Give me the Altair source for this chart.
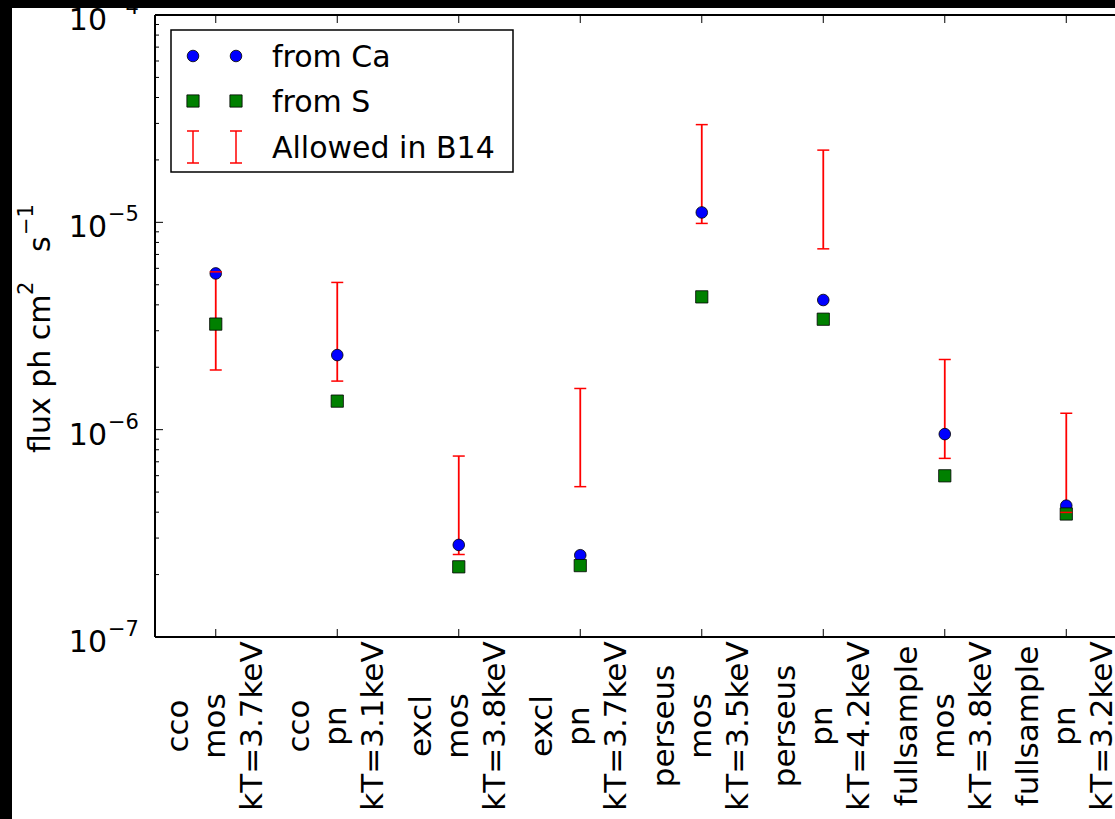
import altair as alt
import pandas as pd

# Sample / detector / temperature for each fitted spectrum
samples = ["cco", "cco", "excl", "excl", "perseus", "perseus", "fullsample", "fullsample"]
detectors = ["mos", "pn", "mos", "pn", "mos", "pn", "mos", "pn"]
temps = ["kT=3.7keV", "kT=3.1keV", "kT=3.8keV", "kT=3.7keV",
         "kT=3.5keV", "kT=4.2keV", "kT=3.8keV", "kT=3.2keV"]

# Line fluxes (ph cm^-2 s^-1)
flux_ca = [5.67e-6, 2.29e-6, 2.78e-7, 2.48e-7, 1.116e-5, 4.22e-6, 9.52e-7, 4.30e-7]
flux_s = [3.23e-6, 1.373e-6, 2.18e-7, 2.21e-7, 4.37e-6, 3.41e-6, 5.99e-7, 3.92e-7]
b14_low = [1.94e-6, 1.715e-6, 2.50e-7, 5.31e-7, 9.88e-6, 7.45e-6, 7.27e-7, 3.99e-7]
b14_high = [5.77e-6, 5.13e-6, 7.46e-7, 1.58e-6, 2.96e-5, 2.23e-5, 2.18e-6, 1.20e-6]

# Log-axis decades and their exponent labels
decades = [1e-7, 1e-6, 1e-5, 1e-4]
exponents = ["\u22127", "\u22126", "\u22125", "\u22124"]
minor_ticks = [k * d for d in decades[:-1] for k in range(2, 10)]

legend_labels = ["from Ca", "from S", "Allowed in B14"]

W, H = 960, 622
FONT = "DejaVu Sans"
LINE_H = 37

df = pd.DataFrame({
    "idx": list(range(len(samples))),
    "label": [f"{a}\n{b}\n{c}" for a, b, c in zip(samples, detectors, temps)],
    "ca": flux_ca,
    "s": flux_s,
    "lo": b14_low,
    "hi": b14_high,
})
dec_df = pd.DataFrame({"v": decades, "exp": exponents})
minor_df = pd.DataFrame({"v": minor_ticks})
one = alt.Data(values=[{}])

xs = alt.Scale(domain=[-0.5, 7.401], nice=False, zero=False)
ys = alt.Scale(type="log", domain=[1e-7, 1e-4], nice=False)
X = alt.X("idx:Q", scale=xs, axis=None)


def Y(field):
    return alt.Y(f"{field}:Q", scale=ys, axis=None)


def txt(**kw):
    return alt.Chart(one).mark_text(font=FONT, color="black", **kw)


# Axes spines (left, top, bottom)
spine_left = alt.Chart(one).mark_rule(color="black", strokeWidth=2).encode(
    x=alt.value(0), y=alt.value(0), y2=alt.value(H))
spine_top = alt.Chart(one).mark_rule(color="black", strokeWidth=2).encode(
    y=alt.value(0), x=alt.value(0), x2=alt.value(W))
spine_bottom = alt.Chart(one).mark_rule(color="black", strokeWidth=2).encode(
    y=alt.value(H), x=alt.value(0), x2=alt.value(W))

# Inward ticks
ytick_major = alt.Chart(dec_df).mark_rule(color="black", strokeWidth=1).encode(
    y=Y("v"), x=alt.value(0), x2=alt.value(8))
ytick_minor = alt.Chart(minor_df).mark_rule(color="black", strokeWidth=1).encode(
    y=Y("v"), x=alt.value(0), x2=alt.value(4))
xtick_top = alt.Chart(df).mark_rule(color="black", strokeWidth=1).encode(
    x=X, y=alt.value(0), y2=alt.value(8))
xtick_bottom = alt.Chart(df).mark_rule(color="black", strokeWidth=1).encode(
    x=X, y=alt.value(H - 8), y2=alt.value(H))

# Allowed range in B14: bar, then markers, then caps
err_bar = alt.Chart(df).mark_rule(color="#ff0000", strokeWidth=1.8).encode(
    x=X, y=Y("lo"), y2="hi:Q")
pts_ca = alt.Chart(df).mark_point(shape="circle", filled=True, size=135, opacity=1,
                                  fill="#0000ff", stroke="black", strokeWidth=0.8).encode(
    x=X, y=Y("ca"))
pts_s = alt.Chart(df).mark_point(shape="square", filled=True, size=150, opacity=1,
                                 fill="#008000", stroke="black", strokeWidth=0.8).encode(
    x=X, y=Y("s"))
cap_lo = alt.Chart(df).mark_tick(orient="horizontal", size=12, thickness=1.5,
                                 color="#ff0000", opacity=1).encode(x=X, y=Y("lo"))
cap_hi = alt.Chart(df).mark_tick(orient="horizontal", size=12, thickness=1.5,
                                 color="#ff0000", opacity=1).encode(x=X, y=Y("hi"))

# Category labels, rotated, three centred lines each (block centred on the tick)
xlabels = alt.Chart(df).mark_text(angle=270, align="center", baseline="middle",
                                  fontSize=31, lineHeight=LINE_H, lineBreak="\n",
                                  dy=-LINE_H, font=FONT, color="black").encode(
    x=X, y=alt.value(711), text="label:N")

# Log-axis tick labels: 10 with a raised exponent
ylab_base = alt.Chart(dec_df).mark_text(align="right", baseline="alphabetic", fontSize=30,
                                        dy=15, font=FONT, color="black").encode(
    y=Y("v"), x=alt.value(-48), text=alt.value("10"))
ylab_exp = alt.Chart(dec_df).mark_text(align="left", baseline="alphabetic", fontSize=21,
                                       dy=-1, font=FONT, color="black").encode(
    y=Y("v"), x=alt.value(-47), text="exp:N")

# y-axis title with raised superscripts
title_parts = [
    ("flux ph cm", 30, -105, 438),
    ("2", 21, -122, 280),
    ("s", 30, -105, 237),
    ("\u22121", 21, -122, 220),
]
ytitle = [
    txt(angle=270, align="left", baseline="alphabetic", fontSize=fs).encode(
        x=alt.value(px), y=alt.value(py), text=alt.value(t))
    for t, fs, px, py in title_parts
]

# Legend box with two sample markers per entry
leg_box = alt.Chart(one).mark_rect(fill="white", stroke="black", strokeWidth=1.5).encode(
    x=alt.value(16), x2=alt.value(358), y=alt.value(15), y2=alt.value(157))
row_y = [41, 86, 132]
sym_x = [38, 81]
leg_layers = [leg_box]
for sx in sym_x:
    leg_layers.append(alt.Chart(one).mark_point(
        shape="circle", filled=True, size=135, opacity=1, fill="#0000ff",
        stroke="black", strokeWidth=0.8).encode(x=alt.value(sx), y=alt.value(row_y[0])))
    leg_layers.append(alt.Chart(one).mark_point(
        shape="square", filled=True, size=150, opacity=1, fill="#008000",
        stroke="black", strokeWidth=0.8).encode(x=alt.value(sx), y=alt.value(row_y[1])))
    leg_layers.append(alt.Chart(one).mark_rule(color="#ff0000", strokeWidth=1.5).encode(
        x=alt.value(sx), y=alt.value(row_y[2] - 16), y2=alt.value(row_y[2] + 16)))
    for cy in (row_y[2] - 16, row_y[2] + 16):
        leg_layers.append(alt.Chart(one).mark_rule(color="#ff0000", strokeWidth=1.5).encode(
            y=alt.value(cy), x=alt.value(sx - 6), x2=alt.value(sx + 6)))
for lab, ry in zip(legend_labels, row_y):
    leg_layers.append(txt(align="left", baseline="alphabetic", fontSize=30).encode(
        x=alt.value(117), y=alt.value(ry + 11), text=alt.value(lab)))

# Dark border strips along the left and top edges
strip_left = alt.Chart(one).mark_rect(color="black").encode(
    x=alt.value(-155), x2=alt.value(-143), y=alt.value(-15), y2=alt.value(H + 182))
strip_top = alt.Chart(one).mark_rect(color="black").encode(
    x=alt.value(-155), x2=alt.value(W), y=alt.value(-15), y2=alt.value(-7))

chart = alt.layer(
    ytick_minor, ytick_major, xtick_top, xtick_bottom,
    err_bar, pts_ca, pts_s, cap_lo, cap_hi,
    *leg_layers,
    spine_left, spine_top, spine_bottom,
    xlabels, ylab_base, ylab_exp, *ytitle,
    strip_left, strip_top,
).properties(
    width=W, height=H,
    autosize=alt.AutoSizeParams(type="none"),
    padding={"left": 155, "top": 15, "right": 0, "bottom": 182},
    background="white",
).configure_view(stroke=None)

chart.save("out.html", embed_options={"renderer": "svg", "actions": False})
